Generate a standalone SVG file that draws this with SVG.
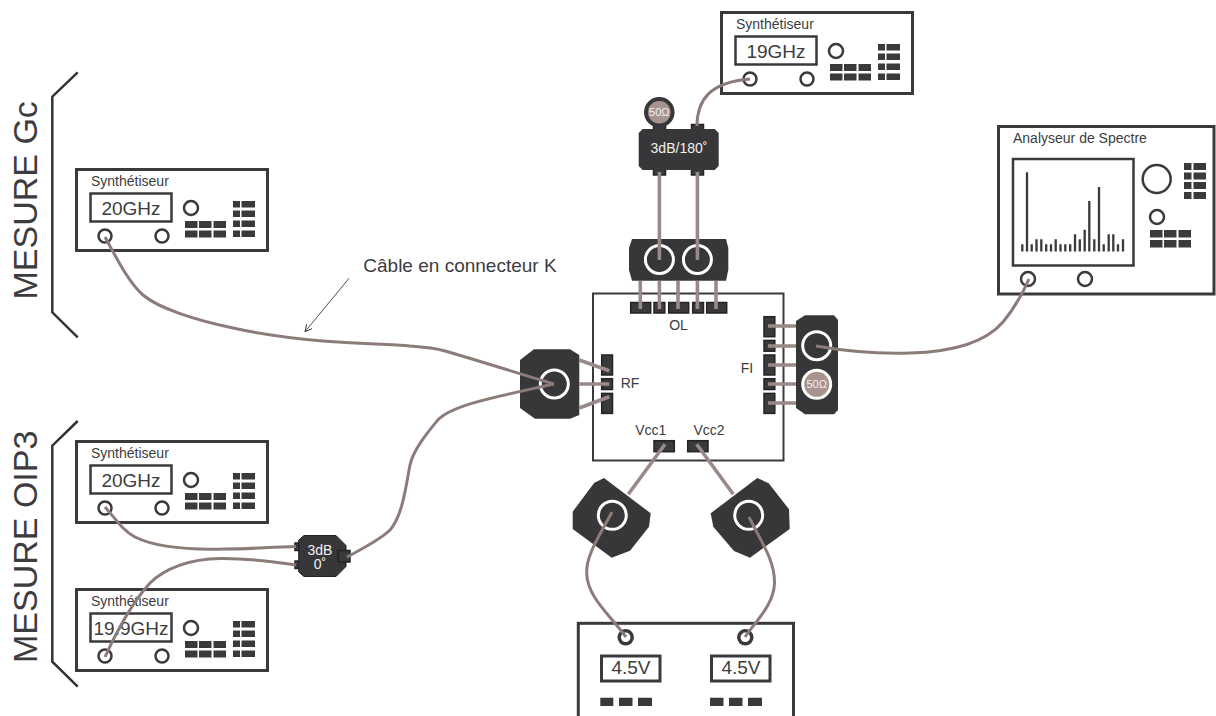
<svg xmlns="http://www.w3.org/2000/svg" width="1216" height="716" viewBox="0 0 1216 716">
<style>
text{font-family:"Liberation Sans",Arial,sans-serif;fill:#3c3c3e}
.s14{font-size:14px}.s19{font-size:19px}
.m{text-anchor:middle}
.w{fill:#f2f0ef}
.big{font-size:34px}
.frame{fill:#fff;stroke:#3a3a3c;stroke-width:3}
.disp{fill:#fff;stroke:#3a3a3c;stroke-width:2.5}
.thin{fill:#fff;stroke:#3a3a3c;stroke-width:2.5}
.btn{fill:#3a3a3c}
.body{fill:#373739}
.ring{fill:none;stroke:#fff;stroke-width:3}
.res{fill:#a8948f;stroke:#fff;stroke-width:3}
.pad{fill:#3a3a3c;stroke:#232325;stroke-width:1.5}
.brk{fill:none;stroke:#333335;stroke-width:2.5}
.cable{fill:none;stroke:#8c7c79;stroke-width:3}
.stub{fill:none;stroke:#9a8a87;stroke-width:3.6}
.note{fill:none;stroke:#3a3a3c;stroke-width:.9}
</style>
<defs>
<marker id="open" markerWidth="10" markerHeight="10" refX="7" refY="4" orient="auto" markerUnits="userSpaceOnUse"><path d="M0,0.5L7,4L0,7.5" fill="none" stroke="#3a3a3c" stroke-width="0.9"/></marker>
<g id="panel">
<rect class="frame" x="76.5" y="169.5" width="191" height="81"/>
<rect class="disp" x="90.5" y="193.5" width="81" height="28"/>
<circle class="thin" cx="191" cy="208" r="7"/>
<circle class="thin" cx="105" cy="236" r="6.5"/>
<circle class="thin" cx="162" cy="236" r="6.5"/>
<path class="btn" d="M185,221h12.500v7h-12.500zM199,221h12.500v7h-12.500zM213.500,221h12.500v7h-12.500zM185,230.500h12.500v7h-12.500zM199,230.500h12.500v7h-12.500zM213.500,230.500h12.500v7h-12.500z"/>
<path class="btn" d="M233,201h7v6.500h-7zM241.500,201h13.500v6.500h-13.500zM233,210.500h7v6.500h-7zM241.500,210.500h13.500v6.500h-13.500zM233,220.500h7v6.500h-7zM241.500,220.500h13.500v6.500h-13.500zM233,230.500h7v6.500h-7zM241.500,230.500h13.500v6.500h-13.500z"/>
</g>
</defs>

<g id="bracket-gc">
<path class="brk" d="M77.700,72.300L52.300,96.700V312.300L77.700,337.300"/>
<text class="big" transform="translate(36.500,299.500) rotate(-90)">MESURE Gc</text>
</g>
<g id="bracket-oip3">
<path class="brk" d="M77.700,421L52.300,445.700V661.700L77.700,686.700"/>
<text class="big" transform="translate(36.500,663) rotate(-90)">MESURE OIP3</text>
</g>

<g id="synth-gc">
<use href="#panel"/>
<text class="s14" x="91" y="186">Synthétiseur</text>
<text class="s19 m" x="131" y="215">20GHz</text>
</g>
<g id="synth-oip3-a" transform="translate(0,272)">
<use href="#panel"/>
<text class="s14" x="91" y="186">Synthétiseur</text>
<text class="s19 m" x="131" y="215">20GHz</text>
</g>
<g id="synth-oip3-b" transform="translate(0,420)">
<use href="#panel"/>
<text class="s14" x="91" y="186">Synthétiseur</text>
<text class="s19 m" x="131" y="215">19.9GHz</text>
</g>
<g id="synth-ol" transform="translate(645,-157)">
<use href="#panel"/>
<text class="s14" x="91" y="186">Synthétiseur</text>
<text class="s19 m" x="131" y="215">19GHz</text>
</g>

<g id="analyser">
<rect class="frame" x="998.500" y="126.500" width="215.500" height="167.500"/>
<text class="s14" x="1013" y="143">Analyseur de Spectre</text>
<rect class="disp" x="1013" y="159" width="120.500" height="106.500"/>
<path fill="none" stroke="#3a3a3c" stroke-width="2.300" d="M1022.300,251.500V244.300M1027,251.500V172.300M1031.700,251.500V244.300M1036.500,251.500V239.300M1041.300,251.500V239.300M1046.200,251.500V244.300M1051,251.500V244.300M1055.700,251.500V239.300M1060.500,251.500V244.300M1065.300,251.500V244.300M1070.200,251.500V244.300M1075,251.500V234.300M1079.800,251.500V239.300M1084.700,251.500V229.700M1089.300,251.500V201M1094.300,251.500V239.300M1099,251.500V187M1103.700,251.500V244.300M1108.700,251.500V234.300M1113.300,251.500V234.300M1118,251.500V244.300M1123,251.500V239.300"/>
<circle class="thin" cx="1156.700" cy="179" r="14"/>
<circle class="thin" cx="1157" cy="217" r="7"/>
<circle class="thin" cx="1028" cy="279" r="7"/>
<circle class="thin" cx="1085" cy="279" r="7"/>
<path class="btn" d="M1150,230h12.500v7.500h-12.500zM1164,230h12.500v7.500h-12.500zM1178.500,230h12.500v7.500h-12.500zM1150,240h12.500v7.500h-12.500zM1164,240h12.500v7.500h-12.500zM1178.500,240h12.500v7.500h-12.500z"/>
<path class="btn" d="M1184,163h7.500v7h-7.500zM1193.500,163h12.500v7h-12.500zM1184,172.500h7.500v7h-7.500zM1193.500,172.500h12.500v7h-12.500zM1184,182h7.500v7h-7.500zM1193.500,182h12.500v7h-12.500zM1184,192h7.500v7h-7.500zM1193.500,192h12.500v7h-12.500z"/>
</g>

<g id="power-supply">
<rect class="frame" x="578.300" y="623.300" width="215.200" height="110"/>
<circle fill="#fff" stroke="#3a3a3c" stroke-width="3.500" cx="625.700" cy="637.300" r="6.500"/>
<circle fill="#fff" stroke="#3a3a3c" stroke-width="3.500" cx="745.300" cy="637.300" r="6.500"/>
<rect class="frame" x="601.500" y="656" width="58.500" height="25"/>
<rect class="frame" x="711.500" y="656" width="58.500" height="25"/>
<text class="s19 m" x="631" y="673.500">4.5V</text>
<text class="s19 m" x="741" y="673.500">4.5V</text>
<path class="btn" d="M600.300,697.700h13v8.300h-13zM619,697.700h13.500v8.300h-13.500zM638,697.700h14v8.300h-14zM710,697.700h13.500v8.300h-13.500zM729,697.700h13.500v8.300h-13.500zM748,697.700h14v8.300h-14z"/>
</g>

<g id="mixer">
<rect fill="#fff" stroke="#3a3a3c" stroke-width="2" x="593" y="293.500" width="190.500" height="167"/>
<rect class="pad" x="630.700" y="302.500" width="20" height="10.500"/>
<rect class="pad" x="654" y="302.500" width="10.800" height="10.500"/>
<rect class="pad" x="668.700" y="302.500" width="20" height="10.500"/>
<rect class="pad" x="692.700" y="302.500" width="10.800" height="10.500"/>
<rect class="pad" x="706.700" y="302.500" width="20" height="10.500"/>
<rect class="pad" x="601.700" y="355" width="10.800" height="20"/>
<rect class="pad" x="601.700" y="378.700" width="10.800" height="10.800"/>
<rect class="pad" x="601.700" y="393.400" width="10.800" height="20"/>
<rect class="pad" x="764" y="316.700" width="10.800" height="20"/>
<rect class="pad" x="764" y="340.400" width="10.800" height="10.800"/>
<rect class="pad" x="764" y="355" width="10.800" height="20"/>
<rect class="pad" x="764" y="378.700" width="10.800" height="10.800"/>
<rect class="pad" x="764" y="393.400" width="10.800" height="20"/>
<rect class="pad" x="654" y="440.700" width="20.300" height="11"/>
<rect class="pad" x="687.700" y="440.700" width="20.300" height="11"/>
<text class="s14 m" x="678.500" y="330">OL</text>
<text class="s14 m" x="630" y="387.700">RF</text>
<text class="s14 m" x="747" y="372.700">FI</text>
<text class="s14 m" x="650.700" y="435">Vcc1</text>
<text class="s14 m" x="709" y="435">Vcc2</text>
</g>

<g id="hybrid-180">
<rect class="pad" x="653.500" y="124.500" width="12" height="6"/>
<rect class="pad" x="691.500" y="124.500" width="12" height="6"/>
<rect class="pad" x="653.500" y="169" width="12" height="6"/>
<rect class="pad" x="691.500" y="169" width="12" height="6"/>
<path class="body" d="M642.700,129H714.700L718.700,133V166L714.700,170H642.700L638.700,166V133Z"/>
<text class="s14 m w" x="679" y="152.700">3dB/180˚</text>
<circle fill="#a8948f" stroke="#373739" stroke-width="4" cx="659.300" cy="112.300" r="13.300"/>
<text class="m w" style="font-size:11px" x="659.300" y="116">50Ω</text>
</g>

<g id="block-ol">
<path class="body" d="M632,239H726L728.300,248V270L726,280.700H632L629,270V248Z"/>
<circle class="ring" cx="659.400" cy="259.500" r="14"/>
<circle class="ring" cx="697.400" cy="259.500" r="14"/>
</g>

<g id="block-fi">
<path class="body" d="M805,315.300H834L838,320V410L834,414.300H805L796,408V321Z"/>
<circle class="ring" cx="816.700" cy="345.700" r="14"/>
<circle class="res" cx="816.700" cy="384.300" r="14"/>
<text class="m w" style="font-size:11px" x="816.700" y="388.300">50Ω</text>
</g>

<g id="block-rf">
<path class="body" d="M534,349.300H570L579.300,355V415L570,418.700H535L520,408V360Z"/>
<circle class="ring" cx="554.300" cy="384" r="14"/>
</g>

<g id="block-vcc1">
<path class="body" d="M594.300,482.700L604,478L650.700,513.300L649,526.700L630,550.700L611.700,557.700L572.700,529V511.700Z"/>
<circle class="ring" cx="612.300" cy="515.300" r="14"/>
</g>

<g id="block-vcc2">
<path class="body" d="M710.700,513.300L757.300,478L768.700,483.300L789,509.300L789.700,529L750,557.700L734,551L713.300,526.700Z"/>
<circle class="ring" cx="748.700" cy="515.300" r="14"/>
</g>

<g id="hybrid-0">
<rect class="pad" x="295" y="543" width="5" height="7.500"/>
<rect class="pad" x="295" y="561" width="5" height="7.500"/>
<path class="body" stroke="#232325" stroke-width="1" d="M304,535.500H336L346,545.500V566.500L336,576.500H304L298.700,572V540Z"/>
<rect class="pad" x="338" y="550.500" width="12" height="11.500"/>
<text class="s14 m w" x="320" y="555">3dB</text>
<text class="s14 m w" x="320" y="569">0˚</text>
</g>

<g id="connectors">
<path class="cable" d="M105,237C115,255 128,282 143,295C158,308 195,320 233,328C260,334 300,339 323,341C360,344 390,344 410,346C425,347 435,348 445,351C480,361 520,374 554,384"/>
<path class="cable" d="M105,507C115,518 122,530 135,537C155,547 190,550 225,549C250,549 270,547 296,546.500"/>
<path class="cable" d="M105,657C115,635 130,605 150,583C165,568 190,559 220,558.500C250,558 275,562 296,565"/>
<path class="cable" d="M347,557C365,547 380,540 390,530C403,515 406,485 410,465C413,450 428,432 437,421C450,405 500,396 554,384"/>
<path class="cable" d="M816,346C845,351 880,354 910,353C950,352 985,343 1003,322C1013,310 1022,295 1029,279"/>
<path class="cable" d="M697,126C697,100 710,82 750,79"/>
<path class="cable" d="M612,512C600,535 586,555 586.700,573C587,597 610,615 626,637"/>
<path class="cable" d="M749,517C760,540 775,560 774.500,583C774,605 755,622 745,637"/>
<path class="stub" d="M659.400,172V260M697.400,172V260"/>
<path class="stub" d="M640.300,281V309M659.400,281V309M678,281V309M697.400,281V309M716,281V309"/>
<path class="stub" d="M579.300,360L609.300,370.700M579.300,384H609.300M579.300,408L609.300,396.700"/>
<path class="stub" d="M768,326H796M768,346H796M768,365H796M768,384H796M768,403H796"/>
<path class="stub" d="M665,444.300L628.300,494.300M696.700,444.300L733.300,494.300"/>
</g>

<g id="annotation">
<text class="s19" x="363.300" y="271.700">Câble en connecteur K</text>
<path class="note" d="M349,278.300L305,331.700" marker-end="url(#open)"/>
</g>
</svg>
